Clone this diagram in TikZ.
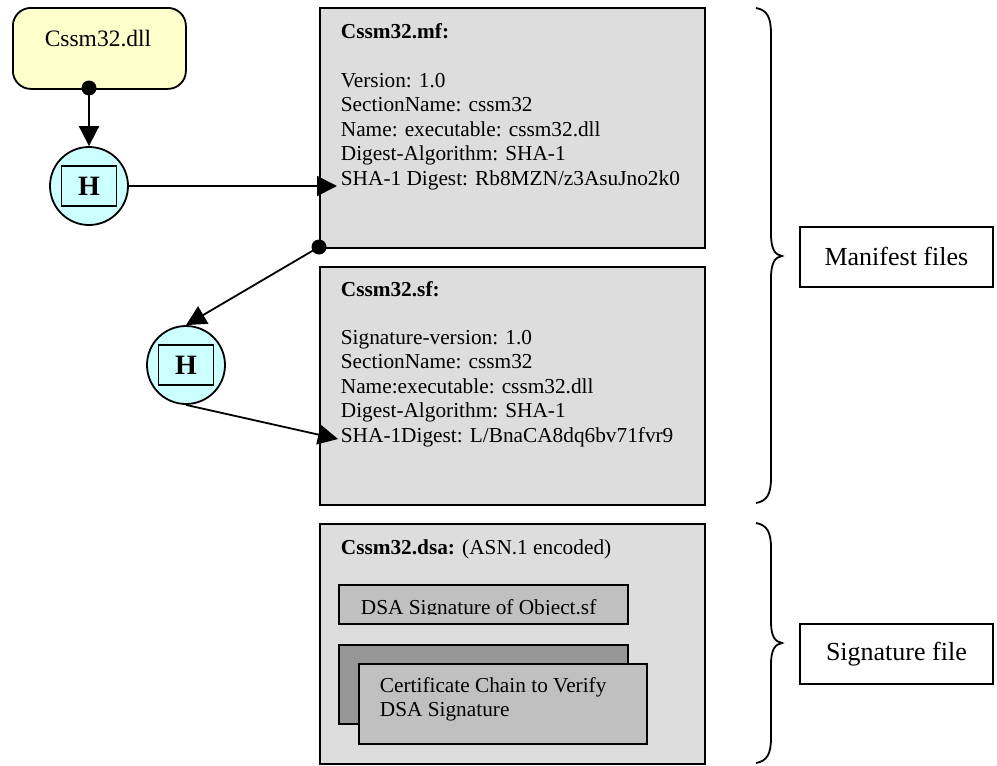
\documentclass[tikz,border=0pt]{standalone}
\usepackage{fontspec}
\setmainfont{Liberation Serif}
\usetikzlibrary{arrows.meta}
\definecolor{dllfill}{HTML}{FFFFCC}
\definecolor{hashfill}{HTML}{CCFFFF}
\definecolor{filefill}{HTML}{DDDDDD}
\definecolor{itemfill}{HTML}{C0C0C0}
\definecolor{shadefill}{HTML}{969696}
\begin{document}
\begin{tikzpicture}[x=1pt,y=-1pt,line width=1.8pt,
  body/.style={font=\fontsize{21.3}{24.5}\selectfont},
  txt/.style={body,anchor=base west,inner sep=0pt},
  tip/.style={-{Triangle[length=20pt,width=20pt]}},
  filebox/.style={draw,fill=filefill,anchor=north west,inner sep=0pt,
    minimum width=385pt},
  itembox/.style={draw,fill=itemfill,anchor=north west,inner sep=0pt},
  hashnode/.style={circle,draw,fill=hashfill,minimum size=78pt,inner sep=0pt},
  hashkey/.style={draw,fill=hashfill,minimum width=55pt,minimum height=40pt,
    inner sep=0pt,font=\bfseries\fontsize{28}{28}\selectfont},
  dot/.style={circle,fill=black,minimum size=15pt,inner sep=0pt},
  label/.style={draw,fill=white,minimum width=193pt,minimum height=60pt,
    inner sep=0pt,font=\fontsize{26}{26}\selectfont},
  brace/.style={line width=1.8pt}]
\useasboundingbox (0,0) rectangle (997,766);

% the executable
\node[draw,fill=dllfill,rounded corners=18pt,minimum width=173pt,
  minimum height=81pt,anchor=north west,inner sep=0pt] (dll) at (12,7) {};
\node[anchor=base,inner sep=0pt,font=\fontsize{23.5}{23.5}\selectfont]
  (dlltxt) at (98,46) {Cssm32.dll};

% file boxes
\node[filebox,minimum height=240pt] (mf) at (319,7) {};
\node[filebox,minimum height=238pt] (sf) at (319,266) {};
\node[filebox,minimum height=240pt] (dsa) at (319,523) {};

% manifest text
\node[txt] (mf0) at (340,38) {\bfseries Cssm32.mf:};
\node[txt] (mf1) at (340,87) {Version: 1.0};
\node[txt] (mf2) at (340,111.5) {SectionName: cssm32};
\node[txt] (mf3) at (340,136) {Name: executable: cssm32.dll};
\node[txt] (mf4) at (340,160.5) {Digest-Algorithm: SHA-1};
\node[txt] (mf5) at (340,185) {SHA-1 Digest: Rb8MZN/z3AsuJno2k0};

% signature instruction text
\node[txt] (sf0) at (340,296) {\bfseries Cssm32.sf:};
\node[txt] (sf1) at (340,344) {Signature-version: 1.0};
\node[txt] (sf2) at (340,368.5) {SectionName: cssm32};
\node[txt] (sf3) at (340,393) {Name:executable: cssm32.dll};
\node[txt] (sf4) at (340,417.5) {Digest-Algorithm: SHA-1};
\node[txt] (sf5) at (340,442) {SHA-1Digest: L/BnaCA8dq6bv71fvr9};

% signature block file
\node[txt] (dsa0) at (340,554) {\textbf{Cssm32.dsa:} (ASN.1 encoded)};
\node[itembox,minimum width=289pt,minimum height=39pt] (sig) at (338,584) {};
\begin{scope}
  \clip (338,584) rectangle (627,614.6);
  \node[txt] (sigtxt) at (360,614) {DSA Signature of Object.sf};
\end{scope}
\node[draw,fill=shadefill,anchor=north west,inner sep=0pt,
  minimum width=289pt,minimum height=79pt] (chainback) at (338,644) {};
\node[itembox,minimum width=288pt,minimum height=80pt] (chain) at (358,663) {};
\node[txt] (chain1) at (379,692) {Certificate Chain to Verify};
\node[txt] (chain2) at (379,716.5) {DSA Signature};

% hashing steps
\node[dot] (d1) at (89,88) {};
\node[hashnode] (h1) at (89,186) {};
\node[hashkey] (h1k) at (h1) {H};
\node[dot] (d2) at (319,247) {};
\node[hashnode] (h2) at (186,365) {};
\node[hashkey] (h2k) at (h2) {H};
\coordinate (mfin) at (337,186);
\coordinate (sfin) at (338,439);

\draw[tip] (d1.center) -- (h1.north);
\draw[tip] (h1.east) -- (mfin);
\draw[tip] (d2.center) -- (h2.north);
\draw[tip] (h2.south) -- (sfin);

% braces and group labels
\draw[brace] (756,8) .. controls (767,10) and (771,17) .. (771,34)
  -- (771,234) .. controls (771,249) and (775,255) .. (782,256)
  .. controls (775,257) and (771,263) .. (771,278)
  -- (771,478) .. controls (771,494) and (767,501) .. (756,503);
\draw[brace] (756,523) .. controls (767,525) and (771,532) .. (771,548)
  -- (771,622) .. controls (771,636) and (775,642) .. (782,643)
  .. controls (775,644) and (771,650) .. (771,664)
  -- (771,738) .. controls (771,754) and (767,761) .. (756,763);
\node[label,anchor=north west] (manifest) at (799,226) {Manifest files};
\node[label,anchor=north west] (sigfile) at (799,623) {Signature file};
\end{tikzpicture}
\end{document}
